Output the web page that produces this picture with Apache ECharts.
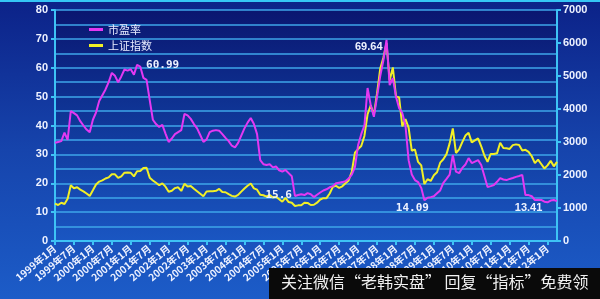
<!DOCTYPE html>
<html><head><meta charset="utf-8">
<script src="https://cdn.jsdelivr.net/npm/echarts@6/dist/echarts.min.js"></script>
<style>html,body{margin:0;padding:0;background:#1a4fb8}#c{width:600px;height:299px}</style>
</head><body><div id="c"></div>
<script>
// Monthly categories 1999-01 .. 2012-04
const startYear = 1999, monthCount = 160;
const categories = [];
for (let i = 0; i < monthCount; i++) {
  const y = startYear + Math.floor(i / 12), m = i % 12 + 1;
  categories.push(y + '年' + m + '月');
}
const seriesNames = ['市盈率', '上证指数'];
// 市盈率 (left axis)
const peValues = [
  34, 34.3, 34.6, 37.5, 35, 45, 44.3, 43.5, 41.5, 40, 38.6, 37.7,
  42, 44.5, 48.5, 50.5, 52.5, 55, 58.2, 57.2, 55, 57, 59.4, 59,
  59.5, 57.6, 60.99, 60.4, 56.5, 55.8, 48.8, 42, 40.5, 39.5, 40.2, 37.2,
  34.3, 35.5, 37, 37.7, 38.4, 44, 43.5, 42.3, 40.5, 39, 36.7, 34.3,
  35.2, 37.7, 38.2, 38.4, 38.2, 37, 35.7, 34.6, 33, 32.4, 34, 36.5,
  39, 41, 42.6, 40.5, 37, 28, 26.6, 26.3, 26.6, 25.5, 25.8, 24.5,
  24, 24.6, 23.5, 22.4, 15.6, 15.9, 16.2, 15.9, 16.6, 16.2, 15.2, 16,
  16.8, 17.5, 17.9, 18.6, 19, 20, 20.2, 20.4, 20.7, 21.6, 23, 25.6,
  33.2, 37, 40, 53, 47, 43, 50, 57, 62.5, 69.64, 54, 56.4,
  50, 46, 44.3, 40, 28, 23, 21.1, 20.4, 18.4, 14.09, 15, 15.2,
  15.5, 16.5, 17.5, 20.1, 21.5, 23, 29.8, 24, 23.5, 25.3, 26.5, 28.7,
  27, 27.5, 28, 26.3, 22.5, 18.7, 19, 19.4, 20.5, 21.8, 21.3, 21.1,
  21.5, 21.8, 22.2, 22.5, 22.9, 15.9, 15.9, 15.5, 14.2, 14.3, 14.2, 13.6,
  13.41, 14, 14.2, 13.8
];
// 上证指数 (right axis)
const indexValues = [
  1134, 1091, 1158, 1120, 1279, 1689, 1601, 1627, 1556, 1505, 1440, 1367,
  1535, 1714, 1800, 1836, 1894, 1928, 2023, 2021, 1910, 1961, 2070, 2073,
  2065, 1959, 2112, 2119, 2214, 2218, 1920, 1834, 1764, 1689, 1747, 1646,
  1491, 1524, 1603, 1628, 1516, 1733, 1651, 1664, 1581, 1507, 1433, 1358,
  1500, 1511, 1511, 1521, 1577, 1487, 1477, 1421, 1367, 1348, 1397, 1497,
  1590, 1675, 1742, 1595, 1555, 1399, 1386, 1342, 1396, 1320, 1340, 1266,
  1191, 1306, 1181, 1159, 1060, 1080, 1083, 1162, 1155, 1092, 1099, 1161,
  1258, 1299, 1298, 1440, 1641, 1672, 1612, 1658, 1752, 1837, 2099, 2675,
  2786, 2881, 3183, 3841, 4109, 3820, 4471, 5218, 5552, 6000, 4871, 5261,
  4383, 4348, 3472, 3693, 3433, 2736, 2775, 2397, 2293, 1728, 1871, 1821,
  1991, 2082, 2373, 2477, 2632, 2959, 3412, 2667, 2779, 2996, 3195, 3277,
  2989, 3051, 3110, 2870, 2592, 2398, 2638, 2639, 2656, 2979, 2820, 2808,
  2791, 2905, 2928, 2911, 2743, 2762, 2701, 2568, 2359, 2468, 2333, 2199,
  2292, 2428, 2263, 2397
];
const leftTicks = {min: 0, max: 80, interval: 10};
const rightTicks = {min: 0, max: 7000, interval: 1000};
// annotated points: index -> label text
const peNotes = [[26, '60.99'], [76, '15.6'], [105, '69.64'], [117, '14.09'], [156, '13.41']];
const watermark = '关注微信“老韩实盘” 回复“指标”免费领';

const noteStyle = {
  26: {position: 'right', distance: 9, offset: [0, 0], fontFamily: 'DejaVu Sans Mono'},
  76: {position: 'left', distance: 3, offset: [0, -1], fontFamily: 'DejaVu Sans Mono'},
  105: {position: 'left', distance: 4, offset: [0, 7], fontFamily: 'Liberation Sans'},
  117: {position: 'bottom', distance: 2, offset: [-12, 0], fontFamily: 'DejaVu Sans Mono'},
  156: {position: 'bottom', distance: 0, offset: [-19, 0], fontFamily: 'Liberation Sans'}
};
const peData = peValues.map((v, i) => {
  const n = peNotes.find(p => p[0] === i);
  if (!n) return v;
  const s = noteStyle[i];
  return {value: v, label: {show: true, formatter: n[1], position: s.position, distance: s.distance,
    offset: s.offset, color: '#eef2ff', fontSize: 11, fontWeight: 'bold', fontFamily: s.fontFamily}};
});

const chart = echarts.init(document.getElementById('c'), null, {renderer: 'canvas'});
const axisColor = '#3ec3f5';
chart.setOption({
  animation: false,
  backgroundColor: {type: 'linear', x: 0, y: 0, x2: 0, y2: 1, colorStops: [
    {offset: 0, color: '#0c2288'}, {offset: 0.5, color: '#1644ac'}, {offset: 1, color: '#1c5cc8'}]},
  grid: {left: 55, right: 43, top: 10, bottom: 58, show: true, borderWidth: 0,
    backgroundColor: {type: 'linear', x: 0, y: 0, x2: 0, y2: 1, colorStops: [
      {offset: 0, color: '#0a1670'}, {offset: 0.45, color: '#0f3596'}, {offset: 1, color: '#1a56c2'}]}},
  legend: {
    orient: 'vertical', left: 84, top: 19, itemGap: 5, itemWidth: 14, itemHeight: 3, icon: 'rect',
    textStyle: {color: '#e8ecff', fontSize: 11, fontFamily: 'Noto Sans CJK SC'},
    data: seriesNames
  },
  xAxis: {
    type: 'category', data: categories, boundaryGap: false,
    axisLine: {lineStyle: {color: axisColor, width: 2}},
    axisTick: {interval: 5, length: 4, lineStyle: {color: axisColor, width: 2}},
    axisLabel: {interval: 5, rotate: 40, color: '#eef2ff', fontSize: 10, fontWeight: 'bold',
      fontFamily: 'Noto Sans CJK SC', margin: 6},
    splitLine: {show: false}
  },
  yAxis: [{
    type: 'value', min: leftTicks.min, max: leftTicks.max, interval: leftTicks.interval,
    axisLine: {show: true, lineStyle: {color: axisColor, width: 2}},
    axisTick: {show: true, length: 4, lineStyle: {color: axisColor, width: 2}},
    axisLabel: {color: '#eef2ff', fontSize: 11, fontWeight: 'bold', fontFamily: 'Liberation Sans', margin: 7},
    splitLine: {show: true, lineStyle: {color: '#3ea6ea', width: 1.6}},
    minorTick: {show: false, splitNumber: 2},
    minorSplitLine: {show: true, lineStyle: {color: '#3ea6ea', width: 1.6}},
    splitArea: {show: false}
  }, {
    type: 'value', min: rightTicks.min, max: rightTicks.max, interval: rightTicks.interval,
    axisLine: {show: true, lineStyle: {color: axisColor, width: 2}},
    axisTick: {show: true, length: 4, lineStyle: {color: axisColor, width: 2}},
    axisLabel: {color: '#eef2ff', fontSize: 11, fontWeight: 'bold', fontFamily: 'Liberation Sans', margin: 6,
      formatter: v => String(v)},
    splitLine: {show: false}
  }],
  series: [{
    name: seriesNames[0], type: 'line', yAxisIndex: 0, data: peData,
    symbol: 'circle', symbolSize: 0.01, showSymbol: true, showAllSymbol: true,
    lineStyle: {color: '#e438f2', width: 2}, itemStyle: {color: '#e438f2'}, z: 3
  }, {
    name: seriesNames[1], type: 'line', yAxisIndex: 1, data: indexValues, symbol: 'none',
    lineStyle: {color: '#f2f026', width: 2}, itemStyle: {color: '#f2f026'}, z: 2
  }],
  graphic: [
    {type: 'rect', shape: {x: 0, y: 0, width: 600, height: 2}, style: {fill: '#35c6f5'}, z: 10},
    {type: 'rect', shape: {x: 269, y: 268, width: 331, height: 31}, style: {fill: '#0a0a0a'}, z: 20},
    {type: 'text', x: 281, y: 274, style: {text: watermark, fill: '#f0f0f0', font: '16px "Noto Sans CJK SC"'}, z: 21}
  ]
});
</script></body></html>
